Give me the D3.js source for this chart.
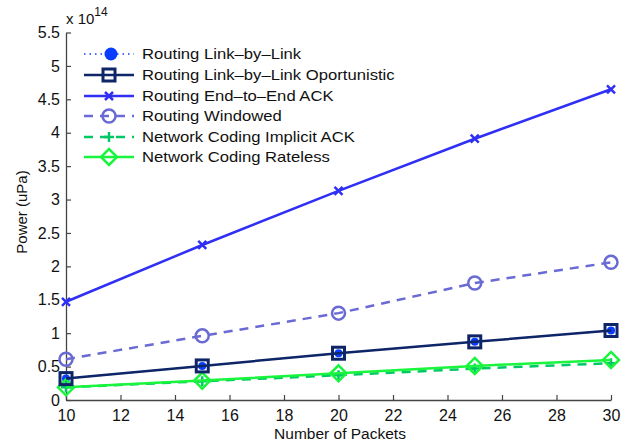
<!DOCTYPE html>
<html><head><meta charset="utf-8">
<script src="https://cdn.jsdelivr.net/npm/d3@7"></script>
<style>body{margin:0;background:#fff}svg{display:block}text{font-family:"Liberation Sans",Arial,sans-serif}</style>
</head><body><svg id="c" width="637" height="443"></svg>
<script>
const packets = [10, 15, 20, 25, 30];
const linkByLink = [0.32, 0.51, 0.70, 0.87, 1.04];
const linkByLinkOpp = [0.32, 0.51, 0.70, 0.87, 1.04];
const endToEnd = [1.47, 2.32, 3.13, 3.91, 4.65];
const windowed = [0.61, 0.96, 1.30, 1.75, 2.06];
const ncImplicit = [0.19, 0.28, 0.37, 0.47, 0.55];
const ncRateless = [0.19, 0.29, 0.40, 0.51, 0.60];
const xTicks = [10, 12, 14, 16, 18, 20, 22, 24, 26, 28, 30];
const yTicks = [0, 0.5, 1, 1.5, 2, 2.5, 3, 3.5, 4, 4.5, 5, 5.5];
const seriesNames = ["Routing Link\u2013by\u2013Link", "Routing Link\u2013by\u2013Link Oportunistic", "Routing End\u2013to\u2013End ACK", "Routing Windowed", "Network Coding Implicit ACK", "Network Coding Rateless"];

const series = [
  {name: seriesNames[0], vals: linkByLink, color: "#0a3cff", dash: "1.5,4", marker: "dot", w: 1.5},
  {name: seriesNames[4], vals: ncImplicit, color: "#00c864", dash: "9,7", marker: "plus", w: 2.5},
  {name: seriesNames[5], vals: ncRateless, color: "#19f53c", dash: null, marker: "diamond", w: 2.5},
  {name: seriesNames[3], vals: windowed, color: "#6a6ad4", dash: "9,7", marker: "circle", w: 2.5},
  {name: seriesNames[1], vals: linkByLinkOpp, color: "#0e2568", dash: null, marker: "square", w: 2.5},
  {name: seriesNames[2], vals: endToEnd, color: "#2f2ff5", dash: null, marker: "x", w: 2.5}
];
const legendOrder = [0, 4, 5, 3, 1, 2];

const svg = d3.select("#c");
const x = d3.scaleLinear().domain([10, 30]).range([66, 611]);
const y = d3.scaleLinear().domain([0, 5.5]).range([400, 32.5]);
const axisColor = "#444";

const gx = svg.append("g").attr("transform", "translate(0,400)")
  .call(d3.axisBottom(x).tickValues(xTicks).tickSizeInner(-5).tickSizeOuter(0).tickPadding(10));
const gy = svg.append("g").attr("transform", "translate(66,0)")
  .call(d3.axisLeft(y).tickValues(yTicks).tickFormat(d3.format("")).tickSizeInner(-5).tickSizeOuter(0).tickPadding(6));
[gx, gy].forEach(g => {
  g.select(".domain").attr("stroke", axisColor).attr("stroke-width", 1.3);
  g.selectAll(".tick line").attr("stroke", axisColor).attr("stroke-width", 1.2);
  g.selectAll(".tick text").attr("fill", "#111").style("font-size", "16px").style("font-family", "Liberation Sans, Arial, sans-serif");
});

svg.append("text").attr("x", 340).attr("y", 439).attr("text-anchor", "middle").style("font-size", "15.5px").attr("fill", "#111").text("Number of Packets");
svg.append("text").attr("transform", "translate(27,212) rotate(-90)").attr("text-anchor", "middle").style("font-size", "15px").attr("fill", "#111").text("Power (uPa)");
const ex = svg.append("text").attr("x", 66).attr("y", 24).style("font-size", "15px").attr("fill", "#111");
ex.append("tspan").text("x 10");
ex.append("tspan").attr("dy", -8).style("font-size", "12px").text("14");

function drawMarker(g, type, cx, cy, color) {
  if (type === "dot") {
    g.append("circle").attr("cx", cx).attr("cy", cy).attr("r", 4).attr("fill", color);
  } else if (type === "square") {
    g.append("rect").attr("x", cx - 6).attr("y", cy - 6).attr("width", 12).attr("height", 12)
      .attr("fill", "none").attr("stroke", color).attr("stroke-width", 3);
  } else if (type === "circle") {
    g.append("circle").attr("cx", cx).attr("cy", cy).attr("r", 6.5).attr("fill", "none").attr("stroke", color).attr("stroke-width", 2.5);
  } else if (type === "diamond") {
    g.append("path").attr("d", `M${cx},${cy-8}L${cx+8},${cy}L${cx},${cy+8}L${cx-8},${cy}Z`)
      .attr("fill", "none").attr("stroke", color).attr("stroke-width", 2.5);
  } else if (type === "plus") {
    g.append("path").attr("d", `M${cx-5},${cy}H${cx+5}M${cx},${cy-5}V${cy+5}`).attr("stroke", color).attr("stroke-width", 2.5);
  } else if (type === "x") {
    g.append("path").attr("d", `M${cx-4},${cy-4}L${cx+4},${cy+4}M${cx-4},${cy+4}L${cx+4},${cy-4}`).attr("stroke", color).attr("stroke-width", 2.5);
  }
}

const line = d3.line().x((d, i) => x(packets[i])).y(d => y(d));
series.forEach(s => {
  const g = svg.append("g");
  g.append("path").attr("d", line(s.vals)).attr("fill", "none").attr("stroke", s.color)
    .attr("stroke-width", s.w).attr("stroke-dasharray", s.dash);
  s.vals.forEach((v, i) => drawMarker(g, s.marker, x(packets[i]), y(v), s.color));
});

const lg = svg.append("g");
const rowY = [54, 75, 96, 116, 137, 157];
legendOrder.forEach((si, k) => {
  const s = series[si];
  const yy = rowY[k];
  lg.append("line").attr("x1", 84).attr("x2", 134).attr("y1", yy).attr("y2", yy)
    .attr("stroke", s.color).attr("stroke-width", s.w).attr("stroke-dasharray", s.dash);
  if (s.marker === "dot") lg.append("circle").attr("cx", 111).attr("cy", yy).attr("r", 6.5).attr("fill", s.color);
  else drawMarker(lg, s.marker, 109, yy, s.color);
  lg.append("text").attr("transform", `translate(142,${yy + 5}) scale(1.19,1)`).style("font-size", "14px").attr("fill", "#111").text(s.name);
});
</script></body></html>
